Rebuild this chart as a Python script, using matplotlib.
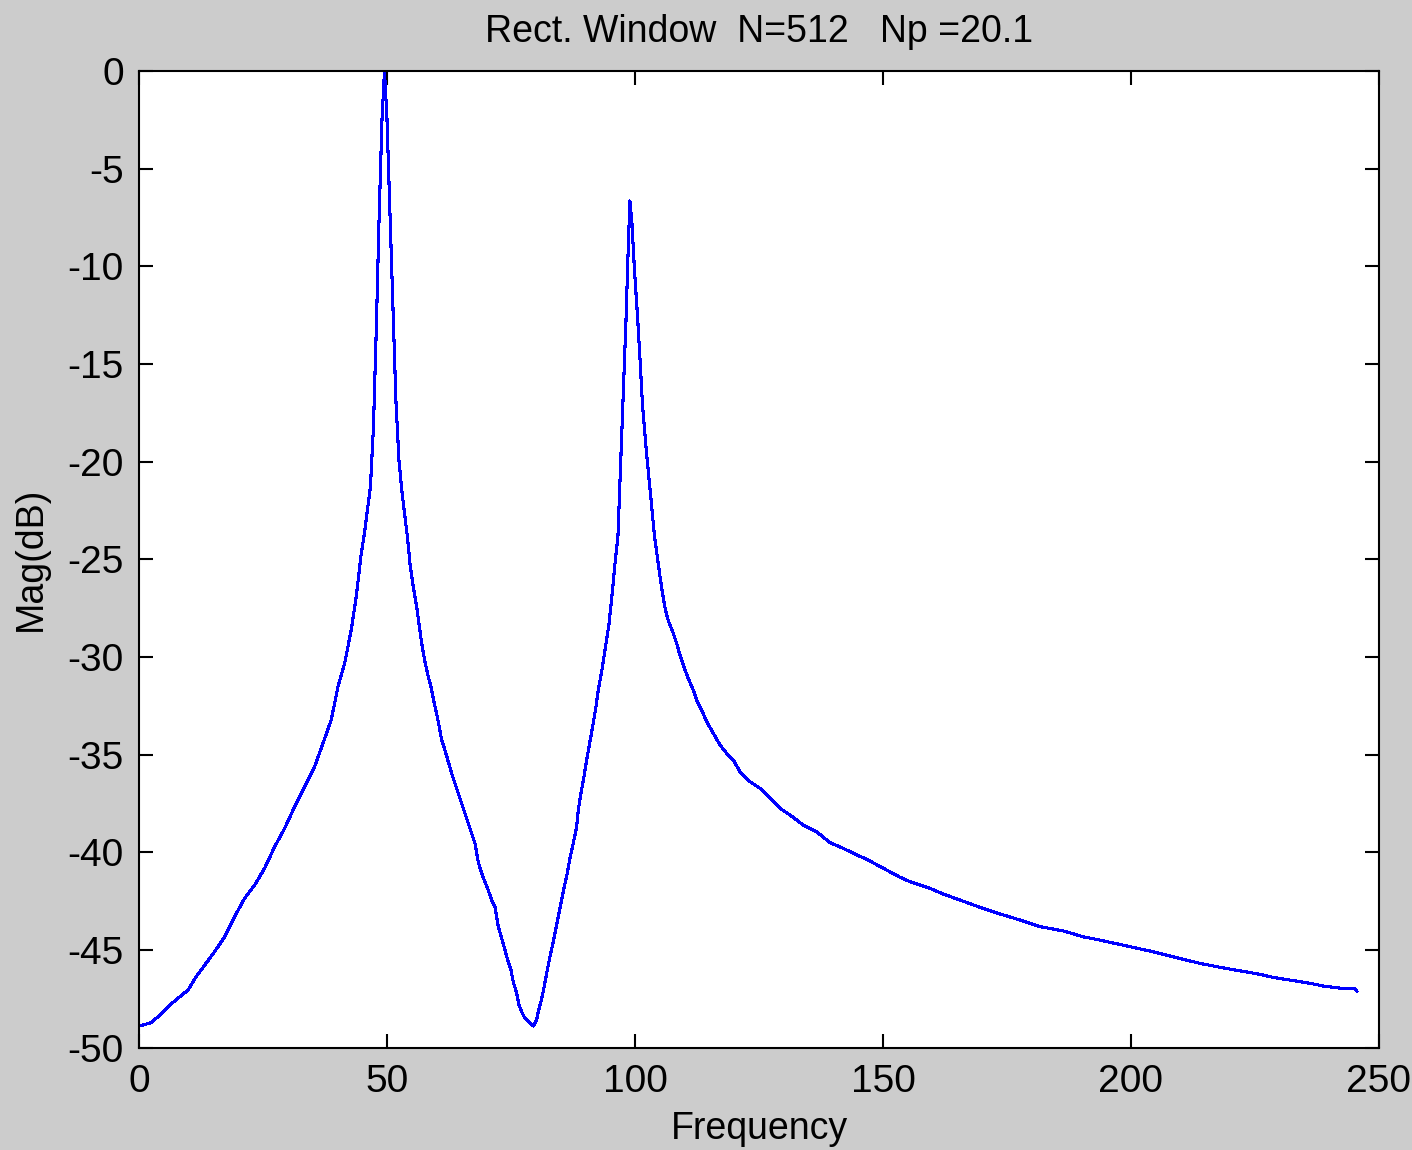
import numpy as np
from matplotlib import pyplot as plt

plt.rcParams['font.family'] = ['Liberation Sans', 'DejaVu Sans']
plt.rcParams['axes.unicode_minus'] = False

# spectrum: frequency (Hz) and magnitude (dB)
freq = [0.0, 2.48, 3.83, 5.85, 7.86, 9.88, 11.55, 13.25, 15.26, 17.28,
        19.29, 21.31, 23.33, 25.34, 27.36, 29.38, 31.39, 33.41, 35.42, 37.10,
        38.77, 40.12, 41.47, 42.80, 43.81, 44.76, 45.46, 46.07, 46.67, 47.28,
        47.88, 48.39, 48.99, 49.50, 50.00, 50.60, 51.21, 51.81, 52.42, 52.92,
        53.53, 54.13, 54.64, 55.30, 55.99, 56.45, 57.00, 57.66, 58.33, 58.87,
        59.48, 60.14, 60.54, 61.03, 61.69, 62.36, 63.04, 63.71, 64.38, 65.06,
        65.73, 66.39, 67.08, 67.74, 68.41, 69.09, 69.76, 70.42, 71.11, 71.77,
        72.12, 72.44, 73.13, 73.79, 74.46, 75.00, 75.46, 76.15, 76.61, 77.16,
        77.82, 78.83, 79.50, 80.18, 80.50, 81.05, 81.51, 82.20, 82.86, 83.53,
        84.21, 84.68, 85.22, 85.75, 86.35, 86.90, 87.56, 88.25, 88.57, 89.11,
        89.72, 90.32, 90.93, 91.59, 92.14, 92.60, 93.29, 93.81, 94.35, 94.76,
        95.36, 95.97, 96.57, 96.98, 97.58, 98.19, 98.69, 98.99, 99.40, 99.90,
        100.50, 101.01, 101.51, 102.12, 102.72, 103.33, 103.93, 104.54, 105.04, 105.54,
        106.15, 106.75, 107.72, 108.41, 108.87, 109.42, 110.08, 110.75, 111.75, 112.44,
        113.45, 114.46, 115.79, 117.14, 118.49, 119.82, 121.17, 123.19, 125.20, 127.22,
        129.23, 131.25, 133.93, 136.63, 139.31, 142.00, 144.70, 146.71, 153.43, 155.44,
        159.48, 162.16, 165.52, 169.56, 173.59, 177.62, 181.65, 186.35, 190.38, 193.75,
        198.99, 203.83, 208.87, 213.91, 218.95, 222.64, 226.01, 228.69, 232.40, 236.09,
        238.77, 242.48, 245.16, 245.56]
mag_db = [-48.90, -48.73, -48.42, -47.91, -47.48, -47.06, -46.37, -45.78, -45.09, -44.33,
          -43.30, -42.36, -41.68, -40.82, -39.72, -38.78, -37.67, -36.65, -35.62, -34.42,
          -33.23, -31.53, -30.33, -28.62, -26.92, -24.83, -23.66, -22.48, -21.30, -18.23,
          -12.95, -7.78, -2.56, 0.0, -2.41, -7.22, -12.08, -16.90, -19.92, -21.30,
          -22.63, -23.86, -25.21, -26.41, -27.43, -28.28, -29.30, -30.25, -31.01, -31.53,
          -32.29, -33.06, -33.57, -34.25, -34.77, -35.37, -35.96, -36.47, -36.98, -37.50,
          -38.01, -38.52, -39.03, -39.54, -40.49, -41.08, -41.51, -41.94, -42.45, -42.79,
          -43.30, -43.81, -44.41, -45.01, -45.61, -46.03, -46.63, -47.22, -47.82, -48.17,
          -48.50, -48.76, -48.90, -48.59, -48.17, -47.65, -47.14, -46.20, -45.35, -44.58,
          -43.73, -43.13, -42.45, -41.77, -41.08, -40.31, -39.54, -38.69, -37.84, -36.98,
          -36.13, -35.19, -34.34, -33.40, -32.55, -31.69, -30.76, -29.90, -28.97, -28.32,
          -26.88, -25.24, -23.81, -20.99, -16.90, -12.80, -8.70, -6.66, -7.83, -10.19,
          -12.49, -14.70, -17.05, -18.95, -20.58, -22.17, -23.81, -24.94, -25.86, -26.73,
          -27.60, -28.16, -28.79, -29.30, -29.73, -30.16, -30.67, -31.10, -31.69, -32.21,
          -32.72, -33.32, -33.91, -34.51, -34.94, -35.28, -35.88, -36.39, -36.73, -37.24,
          -37.75, -38.09, -38.61, -38.95, -39.51, -39.80, -40.14, -40.36, -41.28, -41.51,
          -41.85, -42.14, -42.45, -42.82, -43.16, -43.47, -43.81, -44.03, -44.33, -44.50,
          -44.79, -45.06, -45.38, -45.69, -45.94, -46.10, -46.25, -46.41, -46.56, -46.71,
          -46.85, -46.97, -46.97, -47.12]

xticks = [0, 50, 100, 150, 200, 250]
yticks = [0, -5, -10, -15, -20, -25, -30, -35, -40, -45, -50]

fig = plt.figure(figsize=(14.12, 11.5), dpi=100, facecolor='#cccccc')
ax = fig.add_axes([0.0984, 0.0891, 0.8782, 0.8492])
ax.set_facecolor('white')

ax.plot(freq, mag_db, color='#0000ff', lw=1.5, antialiased=False)

ax.set_xlim(0, 250)
ax.set_ylim(-50, 0)
ax.set_xticks(xticks)
ax.set_yticks(yticks)
ax.tick_params(direction='in', length=10, width=1.5, labelsize=28,
               top=True, right=True, color='black')
ax.tick_params(axis='x', pad=11.5)
ax.tick_params(axis='y', pad=11)
for s in ax.spines.values():
    s.set_linewidth(1.5)

ax.set_title('Rect. Window  N=512   Np =20.1', fontsize=27, pad=21)
ax.set_xlabel('Frequency', fontsize=27, labelpad=8)
ax.set_ylabel('Mag(dB)', fontsize=27, labelpad=13)

plt.savefig('out.png', dpi=100, facecolor=fig.get_facecolor())
